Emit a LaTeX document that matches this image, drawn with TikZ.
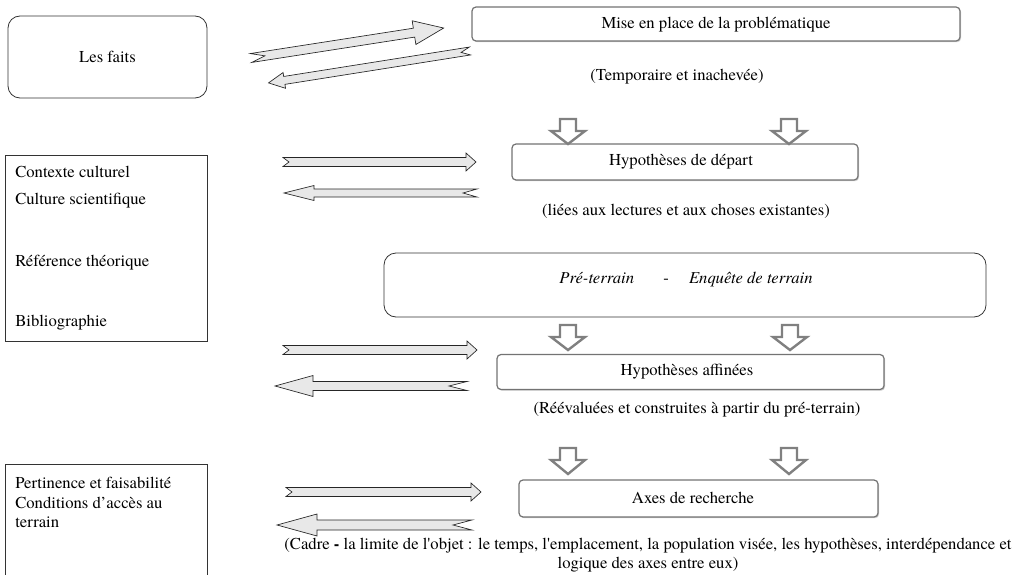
\documentclass[tikz,border=0pt]{standalone}
\usepackage{fontspec}
\setmainfont{texgyretermes}[Extension=.otf, UprightFont=*-regular, ItalicFont=*-italic, BoldFont=*-bold, BoldItalicFont=*-bolditalic]
\usetikzlibrary{shadows}
\newcommand{\barrow}[8]{%
  \draw[blockarrow, shift={(#1,#2)}, rotate=#3]
    (0,#5) -- ({#4-#7},#5) -- ({#4-#7},#6) -- (#4,0) -- ({#4-#7},-#6)
    -- ({#4-#7},-#5) -- (0,-#5) -- (#8,0) -- cycle;}
\newcommand{\hollowdown}[3]{%
  \draw[downarrow] ({#1-8},{-#2}) -- ({#1+8},{-#2}) -- ({#1+8},{-#2-12})
    -- ({#1+17},{-#2-12}) -- (#1,{-#3}) -- ({#1-17},{-#2-12})
    -- ({#1-8},{-#2-12}) -- cycle;}
\begin{document}
\begin{tikzpicture}[x=0.75pt,y=0.75pt,
  font=\fontsize{12.5}{14.5}\selectfont,
  rbox/.style={draw=black!80, line width=0.6pt, rounded corners=9pt, inner sep=0pt},
  sbox/.style={draw=black!55, line width=0.9pt, rounded corners=3pt, fill=white,
    drop shadow={shadow xshift=0.8pt, shadow yshift=-0.9pt, fill=black!40}, inner sep=0pt},
  lbox/.style={draw=black!80, line width=0.6pt, inner sep=0pt},
  blockarrow/.style={draw=black!85, line width=0.5pt, fill=black!9, line join=miter},
  downarrow/.style={draw=black!50, line width=1.8pt, fill=white, line join=miter},
  txt/.style={inner sep=0pt}
]
\useasboundingbox (0,0) rectangle (1016,-574);
\clip (0,0) rectangle (1016,-574);

% boxes
\node[rbox, minimum width=149.25pt, minimum height=61.5pt] (faits) at (107.5,-57) {Les faits};
\node[sbox, minimum width=366pt, minimum height=25.5pt] (mise) at (716,-24) {};
\node[txt] (misetxt) at (716,-25) {Mise en place de la problématique};
\node[sbox, minimum width=259.5pt, minimum height=27pt] (hypdep) at (685,-162) {};
\node[txt] (hypdeptxt) at (681,-162) {Hypothèses de départ};
\node[rbox, minimum width=451.5pt, minimum height=48pt] (pre) at (685,-285) {};
\node[txt] (pretxt) at (686,-280) {\textit{Pré-terrain}\hspace{22pt}-\hspace{15pt}\textit{Enquête de terrain}};
\node[sbox, minimum width=290.25pt, minimum height=26.25pt] (hypaff) at (690.5,-372) {};
\node[txt] (hypafftxt) at (687,-372) {Hypothèses affinées};
\node[sbox, minimum width=269.25pt, minimum height=27.75pt] (axes) at (698.5,-498.5) {};
\node[txt] (axestxt) at (693,-498) {Axes de recherche};

\draw[lbox] (5,-155) rectangle (207,-341);
\node[txt, anchor=west] (c1) at (15,-172) {Contexte culturel};
\node[txt, anchor=west] (c2) at (15,-201) {Culture scientifique};
\node[txt, anchor=west] (c3) at (15,-263) {Référence théorique};
\node[txt, anchor=west] (c4) at (15,-323) {Bibliographie};

\draw[lbox] (5,-464) rectangle (207,-600);
\node[txt, anchor=west] (p1) at (15,-483) {Pertinence et faisabilité};
\node[txt, anchor=north west, align=left] (p2) at (15,-497) {Conditions d’accès au\\terrain};

% captions
\node[txt] (cap1) at (677,-77) {(Temporaire et inachevée)};
\node[txt] (cap2) at (686,-211) {(liées aux lectures et aux choses existantes)};
\node[txt] (cap3) at (697,-410) {(Réévaluées et construites à partir du pré-terrain)};
\node[txt, align=center] (cap4) at (648,-555) {(Cadre \textbf{-} la limite de l\textquotesingle objet : le temps, l\textquotesingle emplacement, la population visée, les hypothèses, interdépendance et\\logique des axes entre eux)};

% down arrows
\hollowdown{568}{119}{144}
\hollowdown{789}{119}{144}
\hollowdown{568}{325}{350}
\hollowdown{790}{325}{350}
\hollowdown{568}{448}{474}
\hollowdown{789}{448}{474}

% block arrows
\barrow{251}{-58}{8.84}{195}{4.5}{12}{30}{14}
\barrow{470}{-51}{189}{204}{4}{8}{16}{9}
\barrow{283}{-162}{0}{193}{4.5}{9}{10}{6}
\barrow{477}{-193}{180}{193}{4}{7.5}{30}{14}
\barrow{283}{-350}{0}{194}{4.5}{9}{10}{6}
\barrow{467}{-386}{180}{192}{4.5}{10.5}{38}{18}
\barrow{286}{-492}{0}{195}{4.5}{9}{10}{6}
\barrow{472}{-525}{180}{195}{5}{11}{40}{19}
\end{tikzpicture}
\end{document}
